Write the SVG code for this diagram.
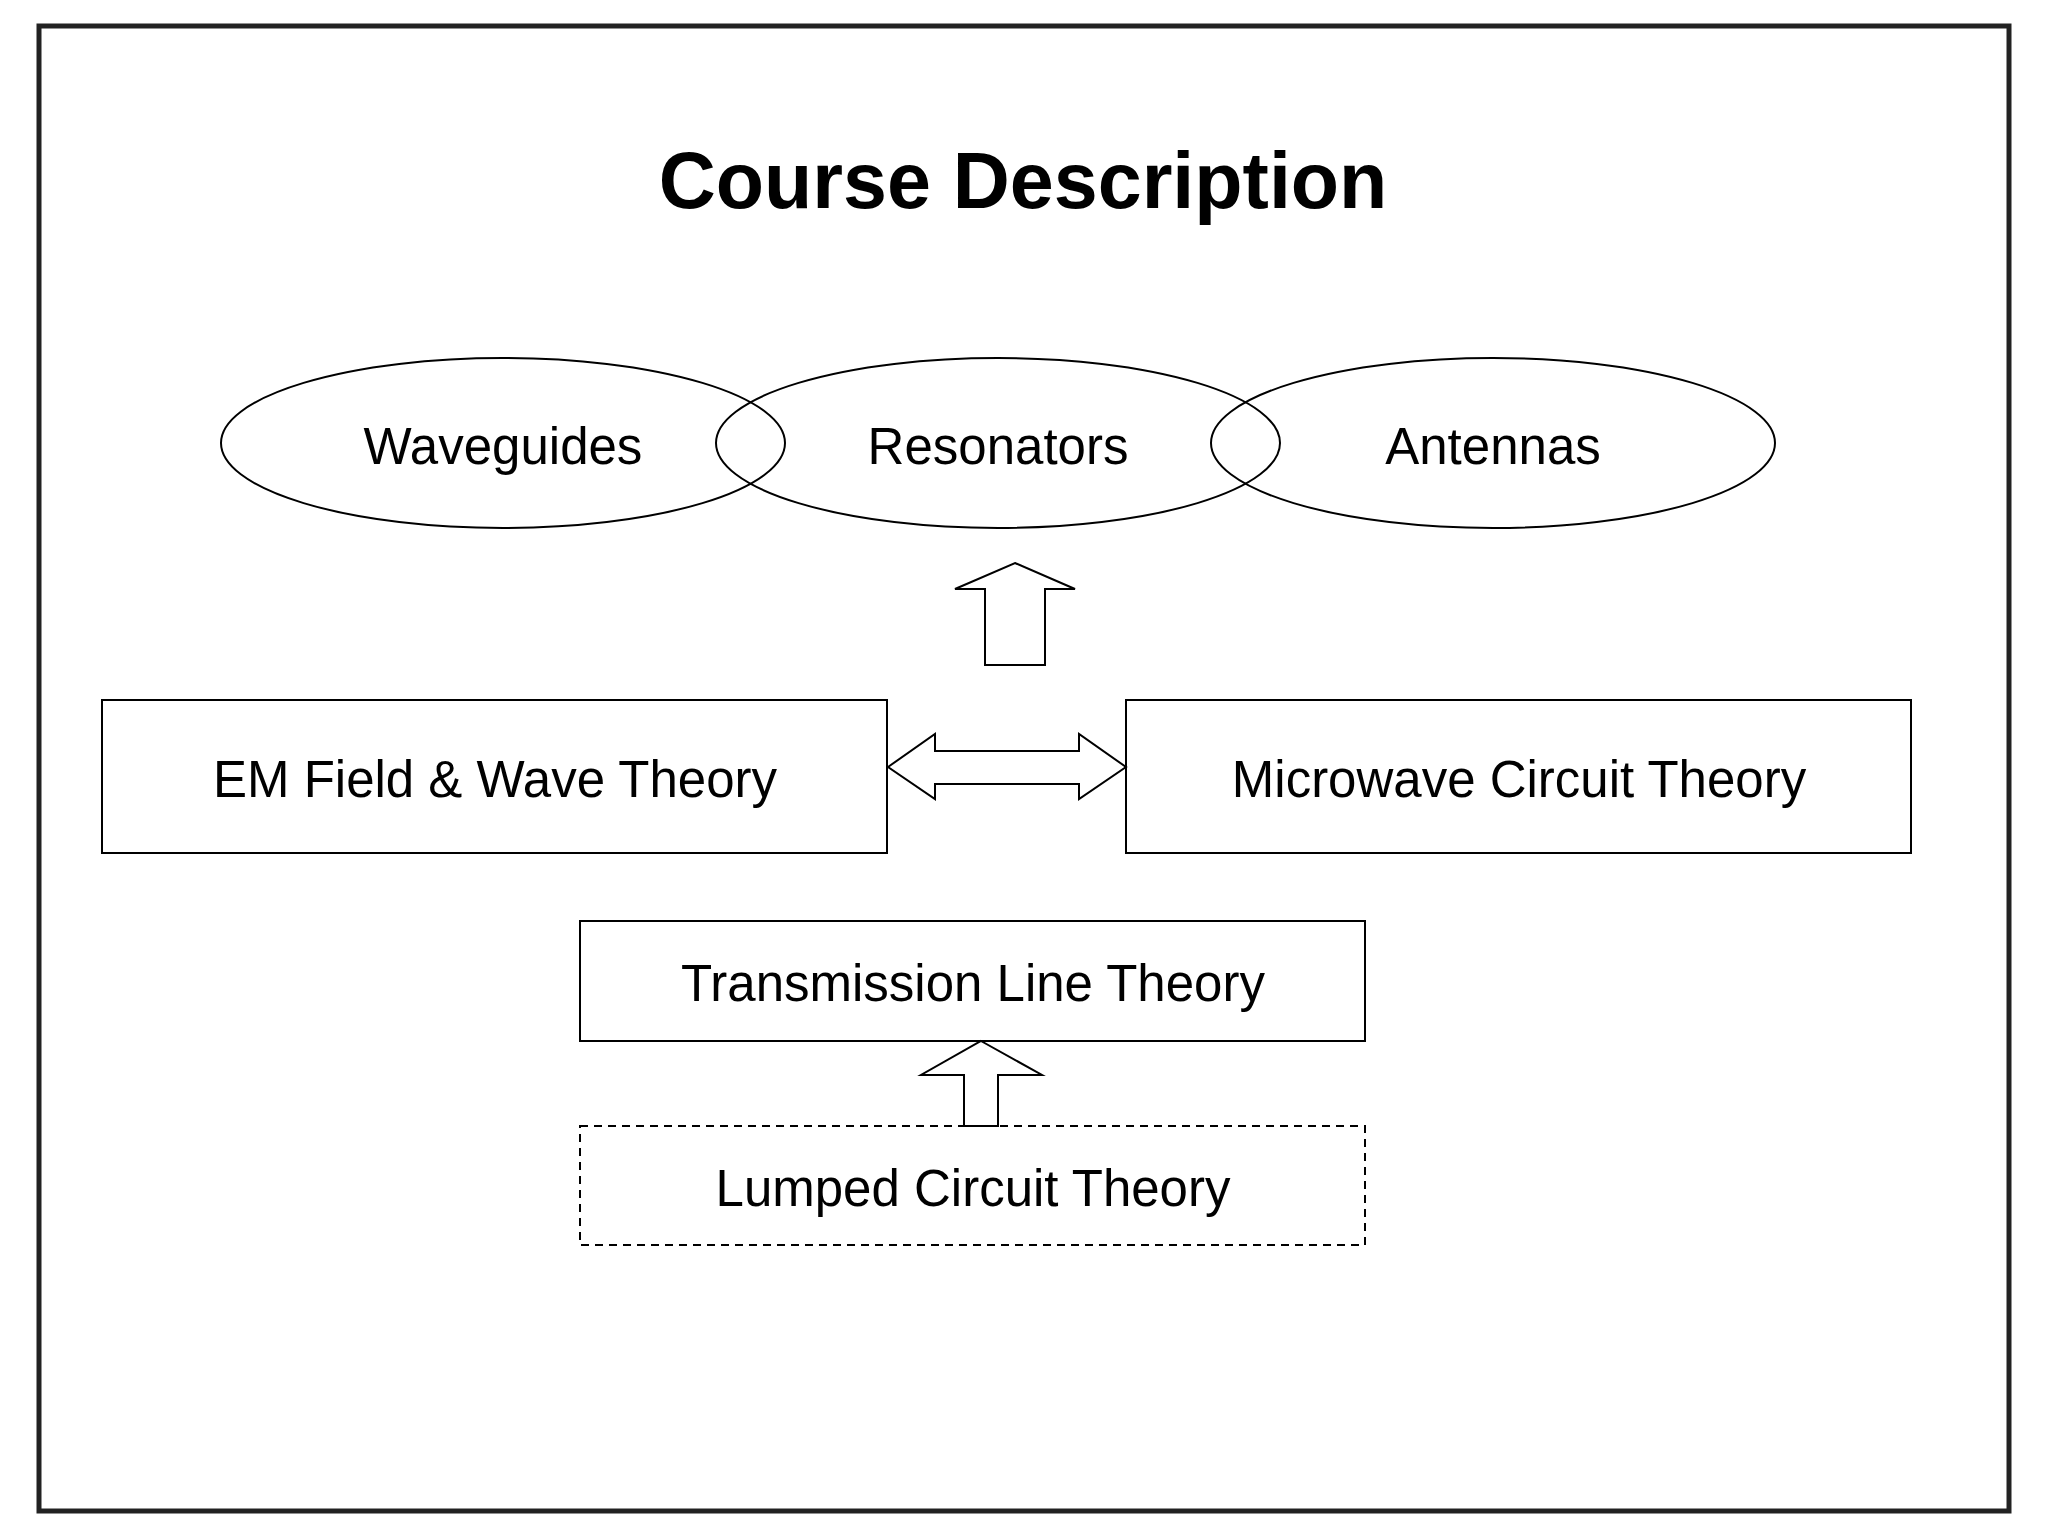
<svg xmlns="http://www.w3.org/2000/svg" width="2048" height="1536" viewBox="0 0 2048 1536">
<style>
.s{fill:#fff;stroke:#000;stroke-width:2}
.t{font-family:"Liberation Sans",Arial,sans-serif;font-size:51px;text-anchor:middle;fill:#000}
</style>
<rect width="2048" height="1536" fill="#fff"/>
<rect x="39" y="26" width="1970" height="1485" fill="none" stroke="#222" stroke-width="5"/>
<text x="1023" y="208" class="t" style="font-size:79px;font-weight:bold">Course Description</text>
<g id="waveguides"><ellipse cx="503" cy="443" rx="282" ry="85" class="s" style="fill:none"/><text x="503" y="464" class="t">Waveguides</text></g>
<g id="resonators"><ellipse cx="998" cy="443" rx="282" ry="85" class="s" style="fill:none"/><text x="998" y="464" class="t">Resonators</text></g>
<g id="antennas"><ellipse cx="1493" cy="443" rx="282" ry="85" class="s" style="fill:none"/><text x="1493" y="464" class="t">Antennas</text></g>
<g id="em"><rect x="102" y="700" width="785" height="153" class="s"/><text x="495" y="797" class="t">EM Field &amp; Wave Theory</text></g>
<g id="mw"><rect x="1126" y="700" width="785" height="153" class="s"/><text x="1519" y="797" class="t">Microwave Circuit Theory</text></g>
<g id="tl"><rect x="580" y="921" width="785" height="120" class="s"/><text x="973" y="1001" class="t">Transmission Line Theory</text></g>
<g id="lumped"><rect x="580" y="1126" width="785" height="119" class="s" stroke-dasharray="8,6"/><text x="973" y="1206" class="t">Lumped Circuit Theory</text></g>
<g id="connectors">
<polygon class="s" points="1015,563 1075,589 1045,589 1045,665 985,665 985,589 955,589"/>
<polygon class="s" points="888,767 935,734 935,751 1079,751 1079,734 1126,767 1079,799 1079,784 935,784 935,799"/>
<polygon class="s" points="981,1041 1042,1075 998,1075 998,1126 964,1126 964,1075 921,1075"/>
</g>
</svg>
